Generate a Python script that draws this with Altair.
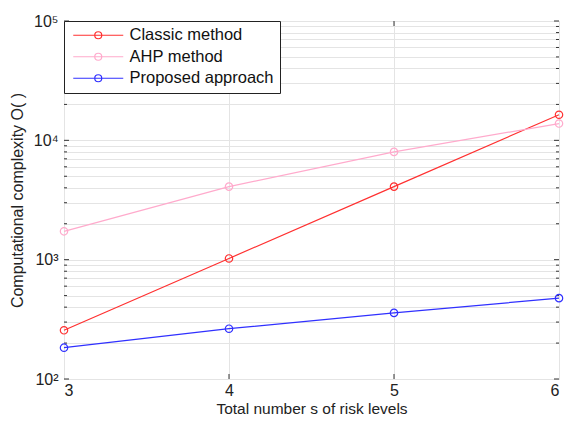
import altair as alt
import pandas as pd

levels = [3, 4, 5, 6]
classic = [256, 1024, 4096, 16384]
ahp = [1728, 4096, 8000, 13824]
proposed = [183, 264, 358, 476]
series_names = ["Classic method", "AHP method", "Proposed approach"]
series_colors = ["#ff3030", "#ffaacc", "#3030ff"]
x_ticks = [3, 4, 5, 6]
y_decades = [100, 1000, 10000, 100000]
y_minor = [m * d for d in [100, 1000, 10000] for m in range(2, 10)]

rows = []
for name, vals in zip(series_names, [classic, ahp, proposed]):
    for s, v in zip(levels, vals):
        rows.append({"s": s, "value": v, "series": name})
df = pd.DataFrame(rows)

FONT = "Liberation Sans"
W, H = 495, 358

xscale = alt.Scale(domain=[3, 6], nice=False, zero=False)
yscale = alt.Scale(type="log", domain=[100, 100000], nice=False)

sym = "M-5,0L5,0M-0.7,0A0.7,0.7,0,1,1,0.7,0A0.7,0.7,0,1,1,-0.7,0"

lines = alt.Chart(df).mark_line(
    strokeWidth=1.2,
    point=alt.OverlayMarkDef(filled=False, size=55, strokeWidth=1.2),
).encode(
    x=alt.X("s:Q", scale=xscale,
            axis=alt.Axis(values=x_ticks, format="d", title="Total number s of risk levels",
                          grid=True, gridColor="#e4e4e4", tickSize=0, domain=False,
                          labelFont=FONT, labelFontSize=16, labelColor="#222",
                          labelPadding=3, titleFont=FONT, titleFontSize=15.5,
                          titleFontWeight="normal", titleColor="#222",
                          titleY=34, titleBaseline="alphabetic")),
    y=alt.Y("value:Q", scale=yscale,
            axis=alt.Axis(values=y_decades + y_minor,
                          labelExpr="datum.value==100?'10²':datum.value==1000?'10³':datum.value==10000?'10⁴':datum.value==100000?'10⁵':''",
                          title="Computational complexity O( )",
                          grid=True, gridColor="#e4e4e4", tickSize=0, domain=False,
                          labelFont=FONT, labelFontSize=16, labelColor="#222",
                          labelPadding=6, titleFont=FONT, titleFontSize=16,
                          titleFontWeight="normal", titleColor="#222", titlePadding=8)),
    color=alt.Color("series:N",
                    scale=alt.Scale(domain=series_names, range=series_colors),
                    sort=series_names,
                    legend=alt.Legend(title=None, orient="top-left", offset=0,
                                      strokeColor="#222", fillColor="white",
                                      symbolType=sym, symbolSize=100,
                                      symbolStrokeWidth=1.2, symbolFillColor="transparent",
                                      symbolOffset=20, labelOffset=23,
                                      labelFont=FONT, labelFontSize=16.5, labelColor="#111",
                                      rowPadding=4.5, padding=6)),
)

major_df = pd.DataFrame({"v": y_decades})
minor_df = pd.DataFrame({"v": y_minor})
xt_df = pd.DataFrame({"x": [4, 5]})

def yticks(d, length):
    left = alt.Chart(d).mark_rule(color="#333", strokeWidth=1).encode(
        y=alt.Y("v:Q", scale=yscale), x=alt.value(0), x2=alt.value(length))
    right = alt.Chart(d).mark_rule(color="#333", strokeWidth=1).encode(
        y=alt.Y("v:Q", scale=yscale), x=alt.value(W), x2=alt.value(W - length))
    return left + right

xt_b = alt.Chart(xt_df).mark_rule(color="#333").encode(
    x=alt.X("x:Q", scale=xscale), y=alt.value(H), y2=alt.value(H - 5))
xt_t = alt.Chart(xt_df).mark_rule(color="#333").encode(
    x=alt.X("x:Q", scale=xscale), y=alt.value(0), y2=alt.value(5))

chart = alt.layer(
    yticks(minor_df, 3), yticks(major_df, 5), xt_b, xt_t, lines
).properties(
    width=W, height=H,
    autosize=alt.AutoSizeParams(type="none"),
    padding={"left": 56, "top": 13, "right": 6, "bottom": 38},
).configure_view(stroke="#333", strokeWidth=1).configure(background="white")

chart.save("out.html", embed_options={"renderer": "svg", "actions": False})
